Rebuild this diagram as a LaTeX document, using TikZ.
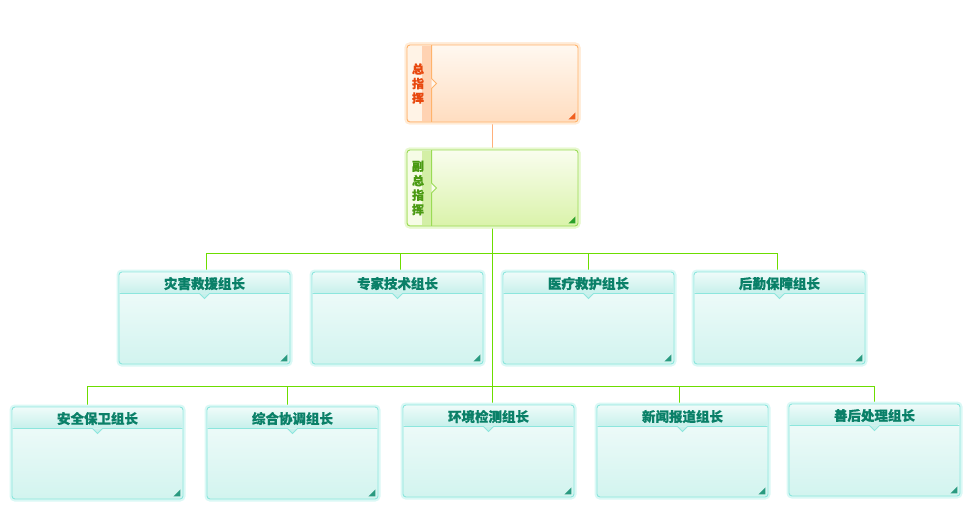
\documentclass[tikz,border=0pt]{standalone}
\usepackage{fontspec}
\newfontfamily\cjk{Noto Sans CJK SC}[BoldFeatures={FakeBold=0.6}]
\usetikzlibrary{positioning,calc}
\definecolor{chiefborder}{HTML}{FFB36B}
\definecolor{chiefglow}{HTML}{FFEBD6}
\definecolor{chieftop}{HTML}{FFF8F0}
\definecolor{chiefbottom}{HTML}{FFDDC0}
\definecolor{chieftab}{HTML}{FFF3E6}
\definecolor{chiefstrip}{HTML}{FFD2B2}
\definecolor{chieftext}{HTML}{E8480E}
\definecolor{chiefcorner}{HTML}{F06020}
\definecolor{viceborder}{HTML}{9ADB55}
\definecolor{viceglow}{HTML}{E8F8D0}
\definecolor{vicetop}{HTML}{F9FDEE}
\definecolor{vicebottom}{HTML}{DAF3AA}
\definecolor{vicetab}{HTML}{F6FCE6}
\definecolor{vicestrip}{HTML}{D3EFA6}
\definecolor{vicetext}{HTML}{4A9A12}
\definecolor{vicecorner}{HTML}{2AA02A}
\definecolor{linkorange}{HTML}{FFB07A}
\definecolor{linkgreen}{HTML}{6CDD00}
\definecolor{tealborder}{HTML}{8CE6DD}
\definecolor{tealglow}{HTML}{DAF8F5}
\definecolor{tealtop}{HTML}{F4FCFB}
\definecolor{tealbottom}{HTML}{D2F4EF}
\definecolor{headtop}{HTML}{EEFBF9}
\definecolor{headbottom}{HTML}{C6F0EB}
\definecolor{tealtext}{HTML}{0A8068}
\definecolor{tealcorner}{HTML}{2A9A80}

\tikzset{
  card/.style={rectangle, rounded corners=3pt, inner sep=0pt, line width=0.9pt},
  chiefbox/.style={card, draw=chiefborder, top color=chieftop, bottom color=chiefbottom,
    preaction={draw=chiefglow, line width=5pt},
    minimum width=171pt, minimum height=77pt},
  vicebox/.style={card, draw=viceborder, top color=vicetop, bottom color=vicebottom,
    preaction={draw=viceglow, line width=5pt},
    minimum width=171pt, minimum height=76pt},
  groupbox/.style={card, draw=tealborder, top color=tealtop, bottom color=tealbottom,
    preaction={draw=tealglow, line width=5pt},
    minimum width=171pt, minimum height=92pt},
  tabtext/.style={font=\cjk\bfseries\fontsize{12}{14.5}\selectfont, align=center, inner sep=0pt},
  headtext/.style={font=\cjk\bfseries\fontsize{13.5}{14}\selectfont, text=tealtext, inner sep=0pt},
  link/.style={linkgreen, line width=1pt},
}

\begin{document}
\begin{tikzpicture}[x=1pt, y=-1pt]
    \useasboundingbox (0,0) rectangle (974,524);

    % Connectors
    \node[chiefbox] (chief) at (492.5,83.5) {};
    \node[vicebox] (vice) at (492.5,188) {};
    \draw[linkorange, line width=1pt] (chief.south) -- (vice.north);
    \coordinate (bus1) at ($(vice.south)+(0,27)$);
    \coordinate (bus2) at ($(vice.south)+(0,160)$);
    \draw[link] (vice.south) -- ($(vice.south)+(0,180)$);
    \foreach \name/\cx/\cy/\dx/\bus in {g1/204.5/318/2/bus1, g2/397.5/318/3/bus1,
        g3/588.5/318/0/bus1, g4/779.5/318/-2/bus1, g5/97.5/453/-10/bus2,
        g6/292.5/453/-5/bus2, g8/682.5/451/-3/bus2, g9/874.5/450/0/bus2} {
        \coordinate (\name top) at ($(\cx,\cy)+(\dx,-46)$);
        \draw[link] (\name top) |- (\bus);
    }

    % Leader boxes
    \node[chiefbox] at (chief) {};
    \fill[chieftab, rounded corners=2pt] ($(chief.north west)+(1.5,1.5)$) rectangle ($(chief.south west)+(25,-1.5)$);
    \fill[chiefstrip] ($(chief.north west)+(15,1.5)$) rectangle ($(chief.south west)+(25,-1.5)$);
    \draw[chiefborder, line width=0.9pt, fill=chieftop] ($(chief.north west)+(25,0.5)$) -- ($(chief.west)+(25,-5)$)
        -- ($(chief.west)+(30,0)$) -- ($(chief.west)+(25,5)$) -- ($(chief.south west)+(25,-0.5)$);
    \node[tabtext, text=chieftext] (chieflabel) at ($(chief.west)+(11.5,0)$) {总\\指\\挥};
    \fill[chiefcorner] ($(chief.south east)+(-3,-3)$) -- ++(0,-7) -- ++(-7,7) -- cycle;

    \node[vicebox] at (vice) {};
    \fill[vicetab, rounded corners=2pt] ($(vice.north west)+(1.5,1.5)$) rectangle ($(vice.south west)+(25,-1.5)$);
    \fill[vicestrip] ($(vice.north west)+(15,1.5)$) rectangle ($(vice.south west)+(25,-1.5)$);
    \draw[viceborder, line width=0.9pt, fill=vicetop] ($(vice.north west)+(25,0.5)$) -- ($(vice.west)+(25,-5)$)
        -- ($(vice.west)+(30,0)$) -- ($(vice.west)+(25,5)$) -- ($(vice.south west)+(25,-0.5)$);
    \node[tabtext, text=vicetext] (vicelabel) at ($(vice.west)+(11.5,0)$) {副\\总\\指\\挥};
    \fill[vicecorner] ($(vice.south east)+(-3,-3)$) -- ++(0,-7) -- ++(-7,7) -- cycle;

    % Group leaders
    \foreach \name/\cx/\cy/\txt in {g1/204.5/318/灾害救援组长, g2/397.5/318/专家技术组长,
        g3/588.5/318/医疗救护组长, g4/779.5/318/后勤保障组长, g5/97.5/453/安全保卫组长,
        g6/292.5/453/综合协调组长, g7/488.5/451/环境检测组长, g8/682.5/451/新闻报道组长,
        g9/874.5/450/善后处理组长} {
        \node[groupbox] (\name) at (\cx,\cy) {};
        \shade[top color=headtop, bottom color=headbottom, rounded corners=2pt]
            ($(\name.north west)+(1.5,1.5)$) rectangle ($(\name.north east)+(-1.5,22)$);
        \filldraw[tealborder, fill=headbottom, line width=0.8pt] ($(\name.north west)+(1,22)$)
            -- ($(\name.north)+(-5,22)$) -- ($(\name.north)+(0,27)$) -- ($(\name.north)+(5,22)$)
            -- ($(\name.north east)+(-1,22)$);
        \node[headtext] (\name label) at ($(\name.north)+(0,12)$) {\txt};
        \fill[tealcorner] ($(\name.south east)+(-3,-3)$) -- ++(0,-7) -- ++(-7,7) -- cycle;
    }
\end{tikzpicture}
\end{document}
